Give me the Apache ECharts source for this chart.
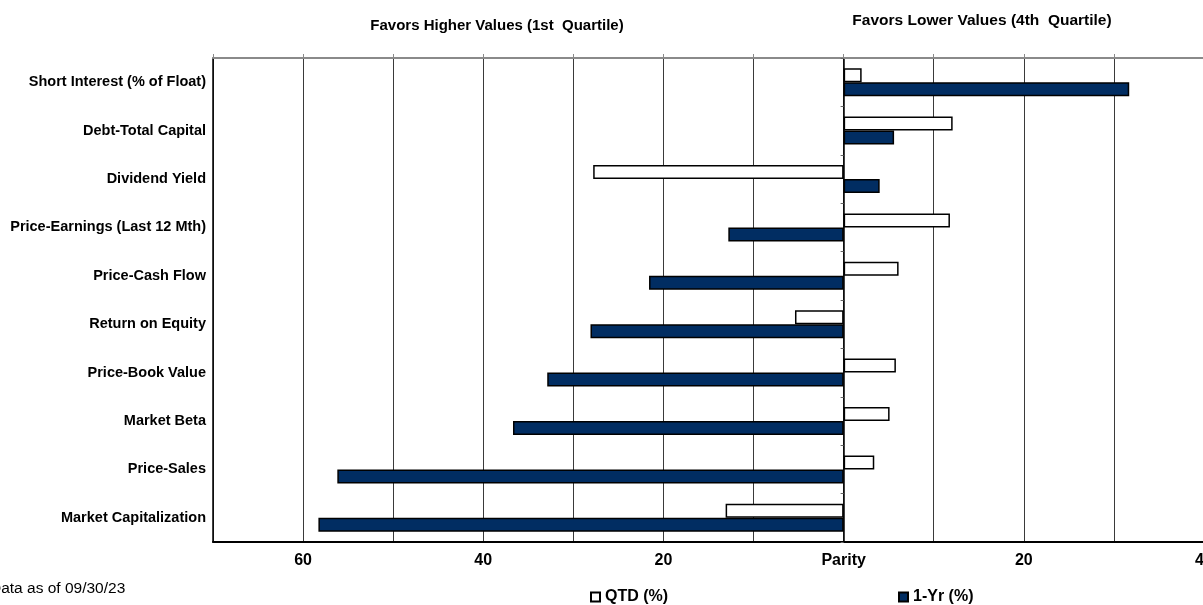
<!DOCTYPE html>
<html>
<head>
<meta charset="utf-8">
<script src="https://cdn.jsdelivr.net/npm/echarts@6/dist/echarts.min.js"></script>
<style>
  html, body { margin: 0; padding: 0; background: #fff; }
  #chart { width: 1203px; height: 605px; }
</style>
</head>
<body>
<div id="chart"></div>
<script>
// Style factor positioning: QTD and 1-Yr relative to parity
const categories = [
  'Short Interest (% of Float)',
  'Debt-Total Capital',
  'Dividend Yield',
  'Price-Earnings (Last 12 Mth)',
  'Price-Cash Flow',
  'Return on Equity',
  'Price-Book Value',
  'Market Beta',
  'Price-Sales',
  'Market Capitalization'
];
const qtd = [2.0, 12.1, -27.8, 11.8, 6.1, -5.4, 5.8, 5.1, 3.4, -13.1];
const oneYr = [31.7, 5.6, 4.0, -12.8, -21.6, -28.1, -32.9, -36.7, -56.2, -58.3];
const axisMin = -70;
const axisMax = 40;
const axisStep = 10;
const labelStep = 20;
const seriesNames = ['QTD (%)', '1-Yr (%)'];

const FONT = 'Arial, "Liberation Sans", sans-serif';
const NAVY = '#012d62';

const chart = echarts.init(document.getElementById('chart'), null, { renderer: 'canvas' });

const legendText = { fontFamily: FONT, fontWeight: 'bold', fontSize: 16, color: '#000' };

const option = {
  backgroundColor: '#ffffff',
  animation: false,
  textStyle: { fontFamily: FONT },
  grid: {
    left: 213, right: -1, top: 58, bottom: 63,
    containLabel: false, outerBoundsMode: 'none'
  },
  legend: [
    {
      data: [seriesNames[0]], left: 590, top: 589, itemWidth: 9, itemHeight: 9,
      icon: 'rect', padding: 0, textStyle: legendText
    },
    {
      data: [seriesNames[1]], left: 898, top: 589, itemWidth: 9, itemHeight: 9,
      icon: 'rect', padding: 0, textStyle: legendText
    }
  ],
  xAxis: [
    {
      type: 'value', position: 'bottom', min: axisMin, max: axisMax, interval: axisStep,
      axisLine: { show: true, onZero: false, lineStyle: { color: '#000', width: 2 } },
      axisTick: { show: false },
      splitLine: { show: true, lineStyle: { color: '#3a3a3a', width: 1 } },
      axisLabel: {
        show: true, margin: 11, color: '#000', fontFamily: FONT, fontWeight: 'bold', fontSize: 16,
        showMinLabel: true, showMaxLabel: true, hideOverlap: false,
        formatter: function (v) {
          if (v % labelStep !== 0) return '';
          if (v === 0) return 'Parity';
          return String(Math.abs(v));
        }
      }
    },
    {
      type: 'value', position: 'top', min: axisMin, max: axisMax, interval: axisStep,
      axisLine: { show: true, onZero: false, lineStyle: { color: '#8a8a8a', width: 2 } },
      axisTick: { show: true, length: 4, lineStyle: { color: '#8a8a8a', width: 1 } },
      axisLabel: { show: false },
      splitLine: { show: false }
    }
  ],
  yAxis: [
    {
      type: 'category', inverse: true, data: categories,
      axisLine: { show: true, onZero: true, lineStyle: { color: '#000', width: 1.5 } },
      axisTick: { show: true, length: 3, lineStyle: { color: '#666' } },
      axisLabel: { show: false },
      splitLine: { show: false }
    },
    {
      type: 'category', inverse: true, data: categories, position: 'left',
      axisLine: { show: true, onZero: false, lineStyle: { color: '#000', width: 1.5 } },
      axisTick: { show: false },
      axisLabel: {
        show: true, margin: 7, color: '#000', fontFamily: FONT, fontWeight: 'bold', fontSize: 14.5
      },
      splitLine: { show: false }
    }
  ],
  graphic: [
    {
      type: 'text', x: 497, y: 26,
      style: {
        text: 'Favors Higher Values (1st  Quartile)', fill: '#000',
        font: 'bold 15px ' + FONT, align: 'center', verticalAlign: 'middle'
      }
    },
    {
      type: 'text', x: 982, y: 21,
      style: {
        text: 'Favors Lower Values (4th  Quartile)', fill: '#000',
        font: 'bold 15.5px ' + FONT, align: 'center', verticalAlign: 'middle'
      }
    },
    {
      type: 'text', x: -10, y: 589,
      style: {
        text: 'Data as of 09/30/23', fill: '#000',
        font: '15.5px ' + FONT, align: 'left', verticalAlign: 'middle'
      }
    }
  ],
  series: [
    {
      name: seriesNames[0], type: 'bar', xAxisIndex: 0, yAxisIndex: 0,
      data: qtd, barWidth: 14, barGap: '0%',
      itemStyle: { color: '#ffffff', borderColor: '#000', borderWidth: 1.5 },
      emphasis: { disabled: true }
    },
    {
      name: seriesNames[1], type: 'bar', xAxisIndex: 0, yAxisIndex: 0,
      data: oneYr, barWidth: 14, barGap: '0%',
      itemStyle: { color: NAVY, borderColor: '#000', borderWidth: 1.5 },
      emphasis: { disabled: true }
    }
  ]
};

chart.setOption(option);
</script>
</body>
</html>
